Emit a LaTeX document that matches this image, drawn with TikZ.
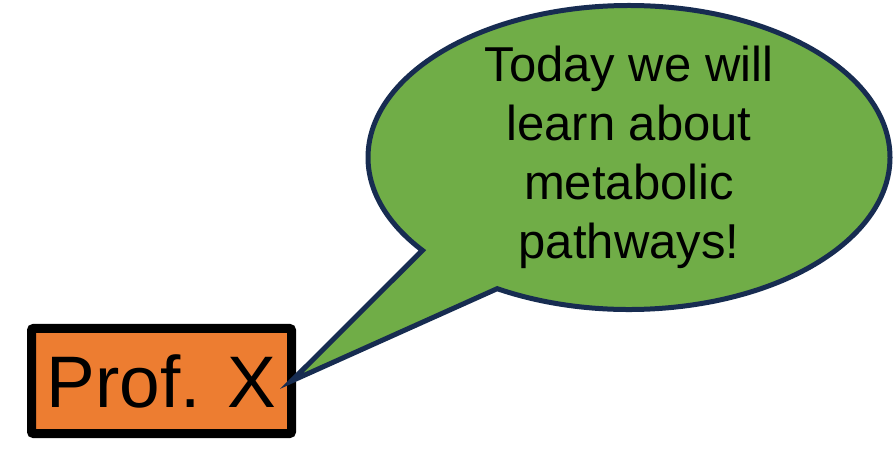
\documentclass[tikz,border=0pt]{standalone}
\usepackage{fontspec}
\setmainfont{Liberation Sans}
\usetikzlibrary{shapes.callouts}
\definecolor{profOrange}{HTML}{ED7D31}
\definecolor{bubbleGreen}{HTML}{70AD47}
\definecolor{bubbleNavy}{HTML}{172C51}

\begin{document}
\begin{tikzpicture}[x=1pt, y=1pt,
        prof/.style={draw=black, line width=9pt, fill=profOrange, rounded corners=2pt, minimum width=260pt, minimum height=105pt, inner sep=0pt, outer sep=0pt, font=\fontsize{73}{88}\selectfont},
        bubble/.style={ellipse callout, draw=bubbleNavy, line width=5pt, fill=bubbleGreen, minimum width=522pt, minimum height=304pt, inner sep=0pt, callout pointer arc=22},
        says/.style={align=center, inner sep=0pt, font=\fontsize{49}{59}\selectfont}]
    \useasboundingbox (0,0) rectangle (896,471);
    \node[prof] (prof) at (161.5,90) {Prof. X};
    \node[bubble, callout absolute pointer=(prof.east)] (bubble) at (629,313.5) {};
    \node[says] (says) at (bubble.center) {Today we will\\learn about\\metabolic\\pathways!};
\end{tikzpicture}
\end{document}
